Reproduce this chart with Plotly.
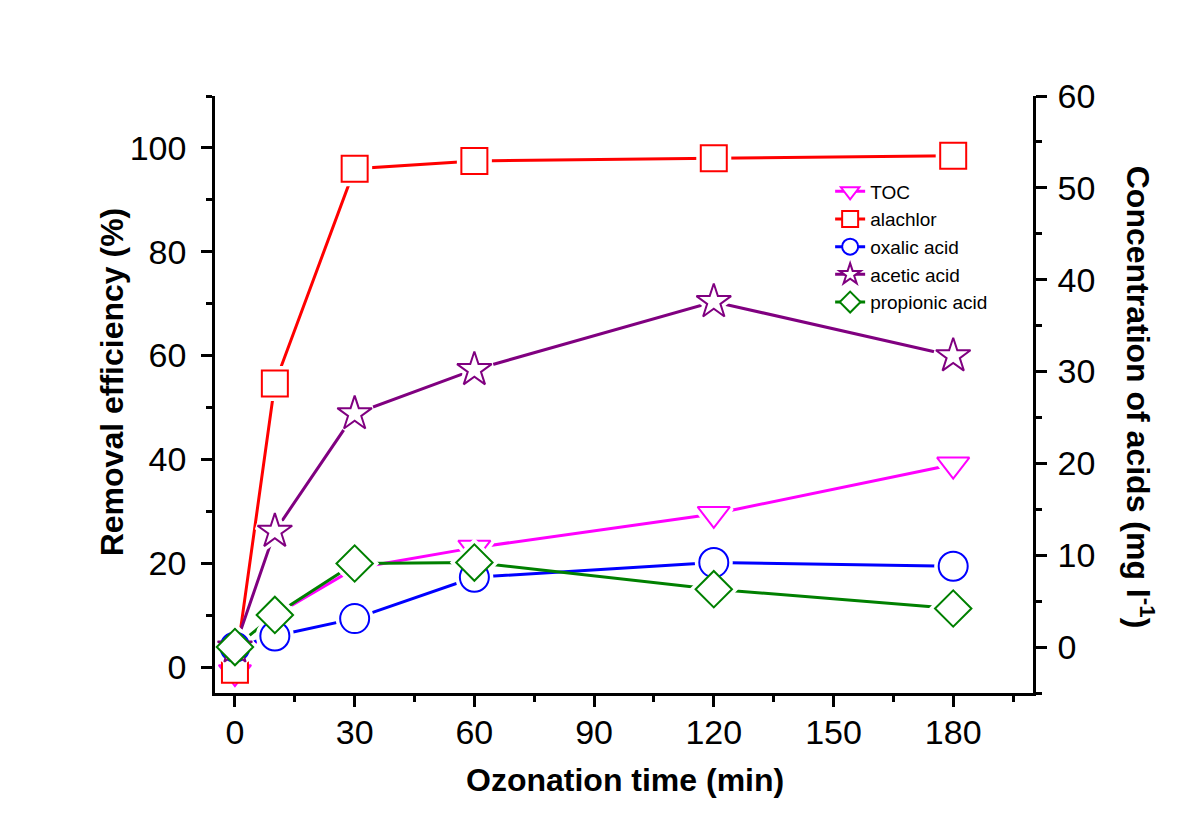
import plotly.graph_objects as go

# ozonation time (min)
time_min = [0, 10, 30, 60, 120, 180]

# removal efficiency (%) - left axis
toc = [-1, 10, 19, 23, 29.5, 39]
alachlor = [-0.5, 54.6, 96, 97.5, 98, 98.5]

# concentration of acids (mg/l) - right axis
oxalic = [0, 1.2, 3.1, 7.6, 9.2, 8.8]
acetic = [0, 12.6, 25.4, 30.2, 37.6, 31.7]
propionic = [0, 3.5, 9.1, 9.2, 6.3, 4.2]

FONT = "Arial, 'Liberation Sans', sans-serif"

series = [
    # name, values, colour, symbol, size, axis
    ("TOC", toc, "#ff00ff", "triangle-down", 28, "y"),
    ("alachlor", alachlor, "#ff0000", "square", 26, "y"),
    ("oxalic acid", oxalic, "#0000ff", "circle", 29, "y2"),
    ("acetic acid", acetic, "#800080", "star", 26, "y2"),
    ("propionic acid", propionic, "#008000", "diamond", 28, "y2"),
]

fig = go.Figure()

# lines (these also carry the legend entries)
for name, vals, col, sym, size, ax in series:
    fig.add_trace(go.Scatter(
        x=time_min, y=vals, name=name, yaxis=ax,
        mode="lines+markers",
        line=dict(color=col, width=3),
        marker=dict(symbol=sym, size=size, color="white",
                    line=dict(color=col, width=2)),
    ))

# white halos so the lines stop short of the markers
for name, vals, col, sym, size, ax in series:
    fig.add_trace(go.Scatter(
        x=time_min, y=vals, yaxis=ax, mode="markers", showlegend=False,
        hoverinfo="skip",
        marker=dict(symbol=sym, size=size, color="white",
                    line=dict(color="white", width=9)),
    ))

# the hollow markers on top
for name, vals, col, sym, size, ax in series:
    fig.add_trace(go.Scatter(
        x=time_min, y=vals, yaxis=ax, mode="markers", showlegend=False,
        marker=dict(symbol=sym, size=size, color="white",
                    line=dict(color=col, width=2)),
    ))

tickfont = dict(family=FONT, size=34, color="black")
titlefont = dict(family=FONT, size=32, color="black", weight="bold")

axis_common = dict(
    showline=True, linecolor="black", linewidth=2.5,
    showgrid=False, zeroline=False,
    ticks="outside", ticklen=11, tickwidth=2.5, tickcolor="black",
    tickfont=tickfont,
)

fig.update_layout(
    width=1200, height=833,
    # page body adds an 8px offset, so margins are trimmed by 8 on left/top
    margin=dict(l=207, r=175, t=88, b=148),
    plot_bgcolor="white", paper_bgcolor="white",
    font=dict(family=FONT, color="black"),
    xaxis=dict(
        axis_common, range=[-5, 200], tick0=0, dtick=30,
        minor=dict(dtick=15, ticks="outside", ticklen=6, tickwidth=2.5, tickcolor="black"),
        ticklabelstandoff=-4,
    ),
    xaxis2=dict(
        overlaying="x", side="top", anchor="y", range=[-5, 200],
        showline=True, linecolor="black", linewidth=2.5, showgrid=False, zeroline=False,
        ticks="inside", ticklen=11, tickwidth=2.5, tickcolor="black",
        tick0=0, dtick=30, showticklabels=False,
        minor=dict(dtick=15, ticks="inside", ticklen=6, tickwidth=2.5, tickcolor="black"),
    ),
    yaxis=dict(
        axis_common, range=[-5, 110], tick0=0, dtick=20,
        minor=dict(dtick=10, ticks="outside", ticklen=6, tickwidth=2.5, tickcolor="black"),
        ticklabelstandoff=8,
    ),
    yaxis2=dict(
        axis_common, overlaying="y", side="right", anchor="x",
        range=[-5, 60], tick0=0, dtick=10,
        minor=dict(dtick=5, ticks="outside", ticklen=6, tickwidth=2.5, tickcolor="black"),
        ticklabelstandoff=4,
    ),
    legend=dict(
        x=0.752, y=0.872, xanchor="left", yanchor="top",
        bgcolor="rgba(0,0,0,0)", borderwidth=0,
        font=dict(family=FONT, size=19, color="black"),
        tracegroupgap=0,
    ),
    annotations=[
        dict(text="Ozonation time (min)", xref="paper", yref="paper",
             x=0.501, y=-0.146, showarrow=False, font=titlefont,
             xanchor="center", yanchor="middle"),
        dict(text="Removal efficiency (%)", xref="paper", yref="paper",
             x=-0.126, y=0.522, showarrow=False, font=titlefont, textangle=-90,
             xanchor="center", yanchor="middle"),
        dict(text="Concentration of acids (mg l<sup>-1</sup>)", xref="paper", yref="paper",
             x=1.131, y=0.496, showarrow=False, font=titlefont, textangle=90,
             xanchor="center", yanchor="middle"),
    ],
)

fig.write_html("out.html")
